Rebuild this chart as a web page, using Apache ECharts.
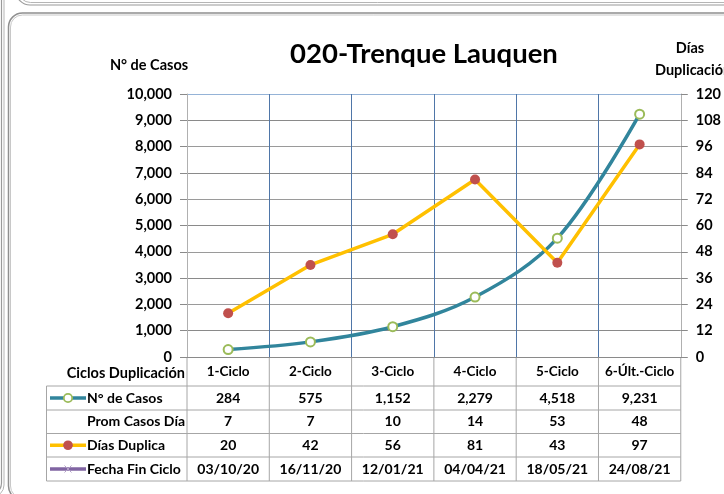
<!DOCTYPE html>
<html>
<head>
<meta charset="utf-8">
<script src="https://cdn.jsdelivr.net/npm/echarts@6/dist/echarts.min.js"></script>
<style>
html,body{margin:0;padding:0;background:#fff;}
#c{width:724px;height:494px;}
</style>
</head>
<body>
<div id="c"></div>
<script>
const categories = ['1-Ciclo','2-Ciclo','3-Ciclo','4-Ciclo','5-Ciclo','6-Últ.-Ciclo'];
const casos = [284, 575, 1152, 2279, 4518, 9231];
const promCasosDia = [7, 7, 10, 14, 53, 48];
const diasDuplica = [20, 42, 56, 81, 43, 97];
const fechaFinCiclo = ['03/10/20','16/11/20','12/01/21','04/04/21','18/05/21','24/08/21'];
const leftAxis = {min: 0, max: 10000, interval: 1000};
const rightAxis = {min: 0, max: 120, interval: 12};

const FONT = 'Lato';
const chart = echarts.init(document.getElementById('c'));

const gridColors = ['#8a8a8a','#8a8a8a','#9a9a9a','#8a8a8a','#9a9a9a','#8a8a8a','#9a9a9a','#8a8a8a','#9a9a9a','#8a8a8a','#95B3D7'];

const option = {
  backgroundColor: '#fff',
  animation: false,
  textStyle: {fontFamily: FONT},
  title: {
    text: '020-Trenque Lauquen',
    left: 419, top: 35, textAlign: 'center',
    textStyle: {fontFamily: FONT, fontWeight: 'bold', fontSize: 27.5, color: '#000'}
  },
  grid: {left: 187, right: 37, top: 94, bottom: 137},
  xAxis: {
    type: 'category',
    data: categories,
    boundaryGap: true,
    axisLine: {lineStyle: {color: '#8a8a8a', width: 1}},
    axisTick: {show: false},
    axisLabel: {interval: 0, margin: 8, color: '#000', fontWeight: 'bold', fontSize: 13.5, fontFamily: FONT},
    splitLine: {show: true, interval: 0, lineStyle: {color: '#4F76A8', width: 1}}
  },
  yAxis: [
    {
      type: 'value', min: leftAxis.min, max: leftAxis.max, interval: leftAxis.interval,
      axisLine: {show: true, lineStyle: {color: '#b0b0b0'}},
      axisTick: {show: true, length: 7, lineStyle: {color: '#8a8a8a'}},
      axisLabel: {margin: 15, color: '#000', fontWeight: 'bold', fontSize: 14.5, fontFamily: FONT,
        formatter: v => v.toLocaleString('en-US')},
      splitLine: {show: true, lineStyle: {color: gridColors, width: 1}}
    },
    {
      type: 'value', min: rightAxis.min, max: rightAxis.max, interval: rightAxis.interval,
      position: 'right',
      axisLine: {show: true, lineStyle: {color: '#b0b0b0'}},
      axisTick: {show: true, length: 7, lineStyle: {color: '#8a8a8a'}},
      axisLabel: {margin: 15, color: '#000', fontWeight: 'bold', fontSize: 14.5, fontFamily: FONT},
      splitLine: {show: false}
    }
  ],
  series: [
    {
      name: 'N° de Casos', type: 'line', yAxisIndex: 0, data: casos,
      smooth: 0.35,
      lineStyle: {color: '#31859C', width: 3.5},
      symbol: 'circle', symbolSize: 9,
      itemStyle: {color: '#ffffff', borderColor: '#9BBB59', borderWidth: 2},
      z: 3
    },
    {
      name: 'Días Duplica', type: 'line', yAxisIndex: 1, data: diasDuplica,
      lineStyle: {color: '#FFC000', width: 3.5},
      symbol: 'circle', symbolSize: 10,
      itemStyle: {color: '#C0504D', borderColor: '#C0504D', borderWidth: 0},
      z: 4
    }
  ]
};
chart.setOption(option);

// Build data table aligned with the category axis
const bandW = chart.convertToPixel({xAxisIndex: 0}, 1) - chart.convertToPixel({xAxisIndex: 0}, 0);
const centers = categories.map((c, i) => chart.convertToPixel({xAxisIndex: 0}, i));
const edges = centers.map(c => c - bandW / 2).concat([centers[centers.length - 1] + bandW / 2]);
const plotBottom = chart.convertToPixel({yAxisIndex: 0}, 0);
const rowEdges = [386, 410, 433.5, 457, 481];
const tableLeft = 46.5;
const lineCol = '#A6A6A6';
const g = [];
const tStyle = (x, y, text, align, size) => ({
  type: 'text', x: x, y: y, silent: true,
  style: {text: text, fill: '#000', font: 'bold ' + (size || 13.5) + 'px ' + FONT, textAlign: align || 'center', textVerticalAlign: 'middle'}
});

// frames (decorative)
g.push({type: 'rect', shape: {x: 16, y: -200, width: 900, height: 205, r: 14}, style: {fill: 'none', stroke: '#9a9a9a', lineWidth: 1.2}});
g.push({type: 'rect', shape: {x: 18.5, y: -200, width: 900, height: 202.5, r: 12}, style: {fill: 'none', stroke: '#b5b5b5', lineWidth: 1}});
g.push({type: 'rect', shape: {x: -300, y: -20, width: 301.5, height: 515, r: 12}, style: {fill: 'none', stroke: '#9a9a9a', lineWidth: 1.2}});
g.push({type: 'rect', shape: {x: -300, y: -20, width: 304, height: 517, r: 12}, style: {fill: 'none', stroke: '#b5b5b5', lineWidth: 1}});
g.push({type: 'rect', shape: {x: 8.5, y: 13, width: 900, height: 487, r: 14}, style: {fill: 'none', stroke: '#8f8f8f', lineWidth: 1.5}});
g.push({type: 'rect', shape: {x: 10.5, y: 15, width: 900, height: 483, r: 12}, style: {fill: 'none', stroke: '#c8c8c8', lineWidth: 1}});

// vertical table lines
edges.forEach((x) => {
  g.push({type: 'line', shape: {x1: x, y1: plotBottom, x2: x, y2: rowEdges[rowEdges.length - 1]}, style: {stroke: lineCol, lineWidth: 1}});
});
g.push({type: 'line', shape: {x1: tableLeft, y1: rowEdges[0], x2: tableLeft, y2: rowEdges[rowEdges.length - 1]}, style: {stroke: lineCol, lineWidth: 1}});
rowEdges.forEach(y => {
  g.push({type: 'line', shape: {x1: tableLeft, y1: y, x2: edges[edges.length - 1], y2: y}, style: {stroke: lineCol, lineWidth: 1}});
});

// header
g.push(tStyle(edges[0] - 2, 373, 'Ciclos Duplicación', 'right', 14.5));
const rows = [
  {label: 'N° de Casos', values: casos.map(v => v.toLocaleString('en-US')), key: 'casos'},
  {label: 'Prom Casos Día', values: promCasosDia.map(String), key: null},
  {label: 'Días Duplica', values: diasDuplica.map(String), key: 'dias'},
  {label: 'Fecha Fin Ciclo', values: fechaFinCiclo, key: 'fecha'}
];
rows.forEach((r, ri) => {
  const yc = (rowEdges[ri] + rowEdges[ri + 1]) / 2;
  g.push(tStyle(87, yc, r.label, 'left', 14));
  r.values.forEach((v, i) => g.push(tStyle(centers[i], yc, v, 'center', 14)));
  if (r.key === 'casos') {
    g.push({type: 'line', shape: {x1: 50, y1: yc, x2: 86, y2: yc}, style: {stroke: '#31859C', lineWidth: 3.5}});
    g.push({type: 'circle', shape: {cx: 68, cy: yc, r: 4.2}, style: {fill: '#fff', stroke: '#9BBB59', lineWidth: 1.8}});
  } else if (r.key === 'dias') {
    g.push({type: 'line', shape: {x1: 50, y1: yc, x2: 86, y2: yc}, style: {stroke: '#FFC000', lineWidth: 3.5}});
    g.push({type: 'circle', shape: {cx: 68, cy: yc, r: 4.8}, style: {fill: '#C0504D'}});
  } else if (r.key === 'fecha') {
    g.push({type: 'line', shape: {x1: 50, y1: yc, x2: 86, y2: yc}, style: {stroke: '#8064A2', lineWidth: 3.5}});
    g.push({type: 'line', shape: {x1: 64.5, y1: yc - 3.5, x2: 71.5, y2: yc + 3.5}, style: {stroke: '#B3A2C7', lineWidth: 1}});
    g.push({type: 'line', shape: {x1: 64.5, y1: yc + 3.5, x2: 71.5, y2: yc - 3.5}, style: {stroke: '#B3A2C7', lineWidth: 1}});
  }
});

// axis titles
g.push({type: 'text', x: 149, y: 65, style: {text: 'N° de Casos', fill: '#000', font: 'bold 14.5px ' + FONT, textAlign: 'center', textVerticalAlign: 'middle'}});
g.push({type: 'text', x: 690, y: 48, style: {text: 'Días', fill: '#000', font: 'bold 14.5px ' + FONT, textAlign: 'center', textVerticalAlign: 'middle'}});
g.push({type: 'text', x: 655, y: 70, style: {text: 'Duplicación', fill: '#000', font: 'bold 14.5px ' + FONT, textAlign: 'left', textVerticalAlign: 'middle'}});

chart.setOption({graphic: {elements: g}});
</script>
</body>
</html>
